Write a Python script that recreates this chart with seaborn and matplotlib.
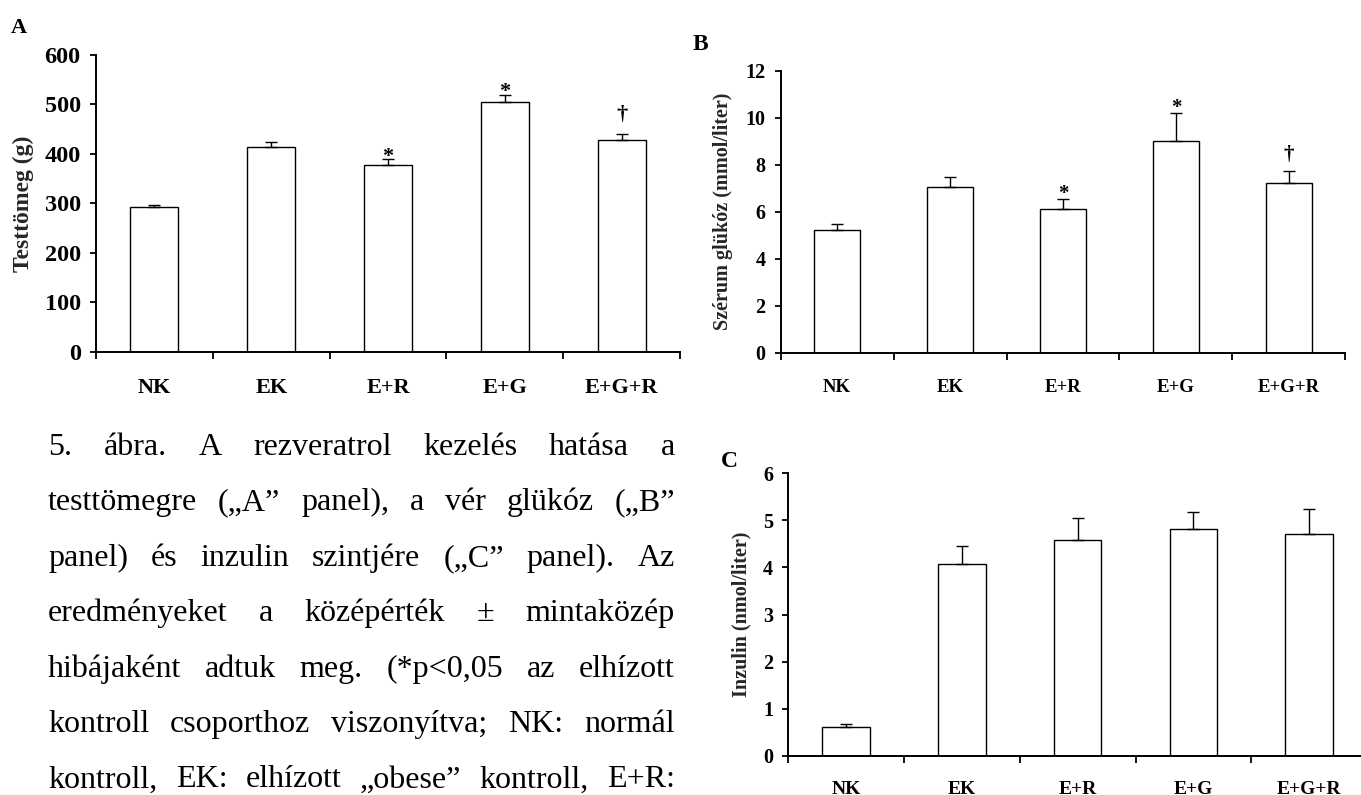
import numpy as np
import matplotlib
matplotlib.use("Agg")
import matplotlib.pyplot as plt
import seaborn as sns

# ---- data -------------------------------------------------------------
groups = ["NK", "EK", "E+R", "E+G", "E+G+R"]

weight_mean = [292, 414, 378, 505, 428]
weight_sem = [5, 11, 12, 15, 12]
weight_marks = ["", "", "*", "*", "†"]

glucose_mean = [5.23, 7.07, 6.11, 9.01, 7.21]
glucose_sem = [0.24, 0.42, 0.42, 1.20, 0.51]
glucose_marks = ["", "", "*", "*", "†"]

insulin_mean = [0.60, 4.07, 4.58, 4.81, 4.72]
insulin_sem = [0.07, 0.38, 0.48, 0.36, 0.52]
insulin_marks = ["", "", "", "", ""]

caption_lines = [
    "5. ábra. A rezveratrol kezelés hatása a",
    "testtömegre („A” panel), a vér glükóz („B”",
    "panel) és inzulin szintjére („C” panel). Az",
    "eredményeket a középérték ± mintaközép",
    "hibájaként adtuk meg. (*p<0,05 az elhízott",
    "kontroll csoporthoz viszonyítva; NK: normál",
    "kontroll, EK: elhízott „obese” kontroll, E+R:",
]

# ---- style ------------------------------------------------------------
sns.set_style("ticks")
plt.rcParams["font.family"] = ["Liberation Serif", "DejaVu Serif"]
plt.rcParams["axes.linewidth"] = 1.4
plt.rcParams["text.color"] = "black"
plt.rcParams["axes.edgecolor"] = "black"
plt.rcParams["xtick.color"] = "black"
plt.rcParams["ytick.color"] = "black"

W, H = 1361, 795
fig = plt.figure(figsize=(W / 100, H / 100), dpi=100)
fig.patch.set_facecolor("white")


def px_rect(left, right, top, bottom):
    return [left / W, 1 - bottom / H, (right - left) / W, (bottom - top) / H]


def panel(rect, means, sems, marks, ylim, yticks, ylabel, label_x,
          tick_fs, cat_fs, ylabel_fs, cat_pad, letter, letter_px, letter_fs,
          mark_fs, star_off, dagger_off):
    ax = fig.add_axes(rect)
    sns.barplot(x=groups, y=means, color="white", saturation=1,
                edgecolor="black", linewidth=1.0, width=0.41,
                errorbar=None, ax=ax, zorder=2)
    ax.errorbar(np.arange(len(groups)), means,
                yerr=[np.zeros(len(groups)), sems], fmt="none",
                ecolor="black", elinewidth=1.0, capsize=4.5, capthick=1.0,
                zorder=3)
    for i, m in enumerate(marks):
        if m:
            off = star_off if m == "*" else dagger_off
            ax.annotate(m, xy=(i, means[i] + sems[i]), xytext=(0, off),
                        textcoords="offset points", ha="center",
                        va="baseline", fontsize=mark_fs, fontweight="bold")

    ax.set_xlim(-0.5, len(groups) - 0.5)
    ax.set_ylim(*ylim)
    ax.set_yticks(yticks)
    ax.set_yticklabels([str(t) for t in yticks], fontsize=tick_fs,
                       fontweight="bold")
    ax.set_xticks(np.arange(-0.5, len(groups), 1.0))
    ax.set_xticklabels([])
    ax.set_xticks(np.arange(len(groups)), minor=True)
    ax.set_xticklabels(groups, minor=True, fontsize=cat_fs, fontweight="bold")
    ax.tick_params(axis="x", which="major", direction="out", length=5.3,
                   width=1.3)
    ax.tick_params(axis="x", which="minor", length=0, pad=cat_pad)
    ax.tick_params(axis="y", direction="out", length=4, width=1.3, pad=7)
    ax.set_xlabel("")
    ax.set_ylabel(ylabel, fontsize=ylabel_fs, fontweight="bold", va="center")
    ax.yaxis.set_label_coords(label_x, 0.5)
    sns.despine(ax=ax)
    fig.text(letter_px[0] / W, 1 - letter_px[1] / H, letter,
             fontsize=letter_fs, fontweight="bold", ha="left", va="baseline")
    return ax


# A: body weight
panel(px_rect(96, 680, 55, 351.7), weight_mean, weight_sem, weight_marks,
      (0, 600), [0, 100, 200, 300, 400, 500, 600], "Testtömeg (g)",
      (23 - 96) / 584, 17.5, 16, 17, 19, "A", (11, 33), 16, 16, -2, 10)

# B: serum glucose
panel(px_rect(780.7, 1345.3, 71, 352.5), glucose_mean, glucose_sem,
      glucose_marks, (0, 12), [0, 2, 4, 6, 8, 10, 12],
      "Szérum glükóz (mmol/liter)", (723 - 780.7) / 564.6,
      14.5, 13.5, 14.5, 19, "B", (693, 50), 17, 15, 0, 8)

# C: insulin
panel(px_rect(788.3, 1367.1, 473.3, 755.7), insulin_mean, insulin_sem,
      insulin_marks, (0, 6), [0, 1, 2, 3, 4, 5, 6],
      "Inzulin (nmol/liter)", (741 - 788.3) / 578.8,
      14.5, 14, 14.5, 18, "C", (721, 467), 17, 15, 0, 8)

# ---- justified caption ------------------------------------------------
renderer = fig.canvas.get_renderer()
x_left, x_right = 48, 675
baseline0, line_step = 455, 55.4
for k, line in enumerate(caption_lines):
    y = 1 - (baseline0 + k * line_step) / H
    words = line.split(" ")
    texts = [fig.text(0, y, w, fontsize=23, ha="left", va="baseline")
             for w in words]
    widths = [t.get_window_extent(renderer).width for t in texts]
    gap = (x_right - x_left - sum(widths)) / (len(words) - 1)
    x = x_left
    for t, w in zip(texts, widths):
        t.set_x(x / W)
        x += w + gap

fig.savefig("out.png", dpi=100, facecolor="white")
